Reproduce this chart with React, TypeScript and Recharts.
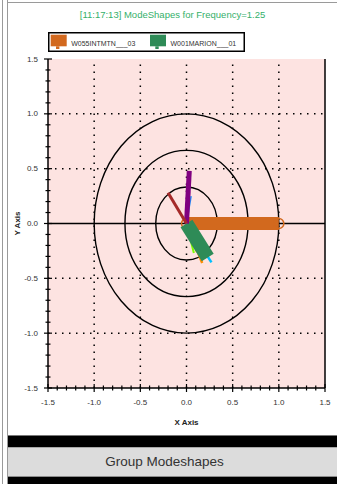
import { ScatterChart, Scatter, XAxis, YAxis, CartesianGrid, ReferenceLine, ReferenceArea, Legend } from 'recharts'

const title = '[11:17:13] ModeShapes for Frequency=1.25'
const footer = 'Group Modeshapes'

// mode shape vectors, each drawn from the origin to its tip (in drawing order)
const vectorNames = ['W055INTMTN___03', 'n3', 'n4', 'n5', 'n6', 'W001MARION___01', 'n9', 'n7', 'n8']
const vectorX = [1.0, 0.08, 0.11, 0.17, 0.27, 0.23, 0.05, 0.03, -0.2]
const vectorY = [0.0, -0.27, -0.26, -0.36, -0.355, -0.31, 0.25, 0.48, 0.28]
const vectorColors = ['#d2691e', '#7cfc00', '#ffd700', '#ff8c00', '#00bfff', '#2e8b57', '#1e90ff', '#800080', '#a52a2a']
const vectorWidths = [13, 2, 2, 2.5, 2.5, 14, 1.5, 5, 3]

const legendNames = ['W055INTMTN___03', 'W001MARION___01']
const legendColors = ['#d2691e', '#2e8b57']

const rings = [1 / 3, 2 / 3, 1]
const gridValues = [-1, -0.5, 0.5, 1]
const gridZero = [0]
const axisTicks = [
  -1.5, -1.4, -1.3, -1.2, -1.1, -1.0, -0.9, -0.8, -0.7, -0.6, -0.5, -0.4, -0.3, -0.2, -0.1, 0,
  0.1, 0.2, 0.3, 0.4, 0.5, 0.6, 0.7, 0.8, 0.9, 1.0, 1.1, 1.2, 1.3, 1.4, 1.5,
]

const isMajor = (v: number) => Math.abs(v * 2 - Math.round(v * 2)) < 1e-6

function BottomTick({ x, y, payload }: any) {
  const major = isMajor(payload.value)
  const h = major ? 4 : 2.5
  return (
    <g>
      <line x1={x} x2={x} y1={y - h} y2={y + h} stroke="#000" strokeWidth={1.2} />
      {major && (
        <text x={x} y={y + 14} textAnchor="middle" dominantBaseline="central" fontSize={8} fill="#333">
          {payload.value.toFixed(1)}
        </text>
      )}
    </g>
  )
}

function LeftTick({ x, y, payload }: any) {
  const major = isMajor(payload.value)
  const h = major ? 4 : 2.5
  return (
    <g>
      <line x1={x - h} x2={x + h} y1={y} y2={y} stroke="#000" strokeWidth={1.2} />
      {major && (
        <text x={x - 10} y={y} textAnchor="end" dominantBaseline="central" fontSize={8} fill="#333">
          {payload.value.toFixed(1)}
        </text>
      )}
    </g>
  )
}

function RightTick({ x, y }: any) {
  return <line x1={x - 3.5} x2={x} y1={y} y2={y} stroke="#000" strokeWidth={1.2} />
}

function LegendBox() {
  return (
    <svg width={197} height={20} style={{ display: 'block' }}>
      <rect x={0.75} y={0.75} width={195.5} height={18.5} fill="#fff" stroke="#000" strokeWidth={1.5} />
      {legendNames.map((n, i) => {
        const sx = i === 0 ? 2.7 : 102
        return (
          <g key={n}>
            <rect x={sx} y={2.7} width={16} height={11.6} fill={legendColors[i]} />
            <rect x={sx + 5.3} y={14.3} width={3.4} height={2.7} fill={legendColors[i]} />
            <text x={sx + 20.5} y={11} fontSize={7} fill="#333" dominantBaseline="central">{n}</text>
          </g>
        )
      })}
    </svg>
  )
}

const ringShape = (p: any) => (
  <ellipse
    cx={p.x + p.width / 2}
    cy={p.y + p.height / 2}
    rx={Math.abs(p.width) / 2}
    ry={Math.abs(p.height) / 2}
    fill="none"
    stroke="#000"
    strokeWidth={1.4}
  />
)

export default function App() {
  return (
    <div
      style={{
        position: 'fixed', left: 0, top: 0, width: 337, height: 484, background: '#fff', overflow: 'hidden',
        fontFamily: '"Liberation Sans", Arial, sans-serif',
      }}
    >
      <div style={{ position: 'absolute', left: 2, top: 0, width: 1, height: 484, background: '#9a9a9a' }} />
      <div style={{ position: 'absolute', left: 7, top: 0, width: 1, height: 484, background: '#9a9a9a' }} />
      <div style={{ position: 'absolute', left: 7, top: 2, width: 330, height: 1, background: '#9a9a9a' }} />
      <div
        style={{
          position: 'absolute', left: 8, width: 329, top: 9, lineHeight: '12px', textAlign: 'center',
          fontSize: 9.5, color: '#35b06a',
        }}
      >
        {title}
      </div>

      <div style={{ position: 'absolute', left: 0, top: 0 }}>
        <ScatterChart width={337} height={436} margin={{ top: 59, right: 0, bottom: 8, left: 0 }}>
          <CartesianGrid horizontal={false} vertical={false} fill="#fde3e1" fillOpacity={1} />
          <XAxis
            dataKey="x" type="number" domain={[-1.5, 1.5]} ticks={axisTicks} interval={0} height={40}
            tickSize={0} tickMargin={0} tickLine={false} tick={<BottomTick />}
            axisLine={{ stroke: '#000', strokeWidth: 1.5 }} allowDataOverflow
            label={(p: any) => (
              <text x={p.viewBox.x + p.viewBox.width / 2} y={p.viewBox.y + 34} textAnchor="middle"
                dominantBaseline="central" fontSize={8} fontWeight="bold" fill="#222">X Axis</text>
            )}
          />
          <XAxis xAxisId="top" orientation="top" dataKey="x" type="number" domain={[-1.5, 1.5]} height={0}
            tick={false} tickLine={false} axisLine={{ stroke: '#000', strokeWidth: 1.5 }} />
          <YAxis
            dataKey="y" type="number" domain={[-1.5, 1.5]} ticks={axisTicks} interval={0} width={48}
            tickSize={0} tickMargin={0} tickLine={false} tick={<LeftTick />}
            axisLine={{ stroke: '#000', strokeWidth: 1.5 }} allowDataOverflow
            label={(p: any) => (
              <text x={p.viewBox.x + 17} y={p.viewBox.y + p.viewBox.height / 2} textAnchor="middle"
                dominantBaseline="central" fontSize={8} fontWeight="bold" fill="#222"
                transform={`rotate(-90 ${p.viewBox.x + 17} ${p.viewBox.y + p.viewBox.height / 2})`}>Y Axis</text>
            )}
          />
          <YAxis yAxisId="right" orientation="right" dataKey="y" type="number" domain={[-1.5, 1.5]}
            ticks={axisTicks} interval={0} width={12} tickSize={0} tickMargin={0} tickLine={false}
            tick={<RightTick />} axisLine={{ stroke: '#000', strokeWidth: 1.5 }} />

          {gridValues.map((v) => (
            <ReferenceLine key={'gx' + v} x={v} stroke="#000" strokeWidth={1.5} strokeDasharray="1.5 5.5" />
          ))}
          {gridValues.map((v) => (
            <ReferenceLine key={'gy' + v} y={v} stroke="#000" strokeWidth={1.5} strokeDasharray="1.5 5.5" />
          ))}
          {gridZero.map((v) => (
            <ReferenceLine key={'zx' + v} x={v} stroke="#000" strokeWidth={1.5} strokeDasharray="1.5 5.5" />
          ))}
          {gridZero.map((v) => (
            <ReferenceLine key={'zy' + v} y={v} stroke="#000" strokeWidth={1.5} />
          ))}

          {vectorNames.map((n, i) => (
            <Scatter
              key={n}
              name={n}
              data={[{ x: 0, y: 0 }, { x: vectorX[i], y: vectorY[i] }]}
              fill={vectorColors[i]}
              line={{ stroke: vectorColors[i], strokeWidth: vectorWidths[i], strokeLinecap: 'butt' }}
              lineType="joint"
              legendType="none"
              isAnimationActive={false}
              shape={(p: any) =>
                i === 0 ? (
                  <circle cx={p.cx} cy={p.cy} r={5} fill="none" stroke={vectorColors[i]} strokeWidth={1.5} />
                ) : (
                  <g />
                )
              }
            />
          ))}

          {rings.map((r) => (
            <ReferenceArea key={'r' + r} x1={-r} x2={r} y1={-r} y2={r} shape={ringShape} />
          ))}

          <Legend
            layout="horizontal" verticalAlign="middle" align="center"
            wrapperStyle={{ top: 32, left: 48, width: 197, height: 20 }}
            content={() => <LegendBox />}
          />
        </ScatterChart>
      </div>

      <div style={{ position: 'absolute', left: 8, top: 435, width: 329, height: 1, background: '#777' }} />
      <div style={{ position: 'absolute', left: 8, top: 436, width: 329, height: 11, background: '#000' }} />
      <div
        style={{
          position: 'absolute', left: 8, top: 447, width: 329, height: 30, background: '#dcdcdc',
          borderTop: '1px solid #a8a8a8', borderBottom: '1px solid #8c8c8c', boxSizing: 'border-box',
          textAlign: 'center', lineHeight: '28px', fontSize: 13.5, color: '#333',
        }}
      >
        <span style={{ position: 'relative', left: -8 }}>{footer}</span>
      </div>
      <div style={{ position: 'absolute', left: 8, top: 477, width: 329, height: 7, background: '#000' }} />
    </div>
  )
}
